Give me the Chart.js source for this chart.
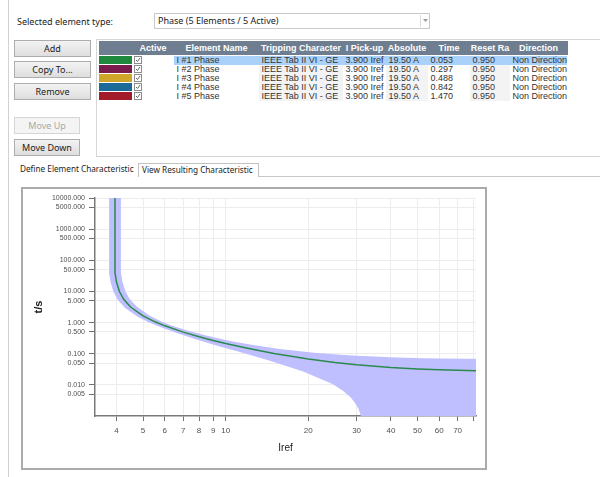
<!DOCTYPE html>
<html>
<head>
<meta charset="utf-8">
<script src="https://cdn.jsdelivr.net/npm/chart.js@4.4.1/dist/chart.umd.min.js"></script>
<style>
  html, body { margin: 0; padding: 0; background: #fff; }
  body { width: 600px; height: 477px; position: relative; overflow: hidden; font-family: "Noto Sans", "Open Sans", sans-serif; color: #222; }
  .pageLine { position: absolute; left: 8px; top: 0; width: 1px; height: 477px; background: #d2d2d2; }
  .lbl { position: absolute; font-size: 9px; line-height: 13px; white-space: nowrap; }
  .combo { position: absolute; left: 154px; top: 13px; width: 274px; height: 14px; border: 1px solid #c9c9c9; font-size: 9px; line-height: 14px; }
  .combo span { position: absolute; left: 3px; top: 0; }
  .combo .sep { position: absolute; left: 265px; top: 1px; width: 1px; height: 12px; background: #dcdcdc; }
  .btn { position: absolute; left: 14px; width: 75px; height: 15px; border: 1px solid #adadad; background: linear-gradient(#f3f3f3, #dedede); font-size: 9px; text-align: center; line-height: 15px; color: #222; }
  .btn.off { color: #a9a9a9; border-color: #d5d5d5; background: #f4f4f4; }
  .tbl { position: absolute; left: 96px; top: 39px; width: 510px; height: 116px; border: 1px solid #d6d6d6; background: #fff; }
  .cell { position: absolute; font-family: "Liberation Sans", Arial, sans-serif; font-size: 9px; line-height: 9px; white-space: nowrap; color: #333; }
  .hcell { position: absolute; font-family: "Liberation Sans", Arial, sans-serif; font-weight: bold; font-size: 9px; line-height: 14px; color: #fff; text-align: center; white-space: nowrap; }
  .chk { position: absolute; width: 8px; height: 8px; line-height: 0; }
  .chk svg { display: block; }
  .tab { position: absolute; font-size: 8.2px; line-height: 12px; white-space: nowrap; }
  .tabOn { position: absolute; left: 138px; top: 163px; width: 119px; height: 13px; border: 1px solid #c2c2c2; border-bottom: none; background: #fff; }
  .frame { position: absolute; left: 21px; top: 187px; width: 462px; height: 279px; border: 2px solid #ababab; }
</style>
</head>
<body>
<div class="pageLine"></div>
<div class="lbl" style="left:17px; top:15px;">Selected element type:</div>
<div class="combo"><span>Phase (5 Elements / 5 Active)</span><div class="sep"></div>
  <svg style="position:absolute; left:268px; top:5px;" width="5" height="4"><polygon points="0,0 5,0 2.5,3" fill="#9a9a9a"/></svg>
</div>

<div class="btn" style="top:40px;">Add</div>
<div class="btn" style="top:61px;">Copy To...</div>
<div class="btn" style="top:83px;">Remove</div>
<div class="btn off" style="top:117px; width:64px;">Move Up</div>
<div class="btn" style="top:139px; width:64px;">Move Down</div>

<div class="tbl" id="tbl"></div>

<div class="tab" style="left:20px; top:163px;">Define Element Characteristic</div>
<div class="tabOn"></div>
<div class="tab" style="left:142px; top:164px;">View Resulting Characteristic</div>
<div style="position:absolute; left:258px; top:176px; width:342px; height:1px; background:#c8c8c8;"></div>

<div class="frame"><canvas id="chart" width="462" height="279"></canvas></div>

<script>
// table contents
const columnNames = ["", "Active", "Element Name", "Tripping Character", "I Pick-up", "Absolute", "Time", "Reset Ra", "Direction"];
const columnWidths = [33.5, 42, 85, 84, 43, 42, 42, 40, 57];
const swatchColors = ["#1f8a3d", "#7b1c4e", "#cfa52a", "#1b6a97", "#a21b2b"];
const elementNames = ["I #1 Phase", "I #2 Phase", "I #3 Phase", "I #4 Phase", "I #5 Phase"];
const trippingChars = ["IEEE Tab II VI - GE", "IEEE Tab II VI - GE", "IEEE Tab II VI - GE", "IEEE Tab II VI - GE", "IEEE Tab II VI - GE"];
const pickups = ["3.900 Iref", "3.900 Iref", "3.900 Iref", "3.900 Iref", "3.900 Iref"];
const absolutes = ["19.50 A", "19.50 A", "19.50 A", "19.50 A", "19.50 A"];
const timeDials = ["0.053", "0.297", "0.488", "0.842", "1.470"];
const resetRatios = ["0.950", "0.950", "0.950", "0.950", "0.950"];
const directions = ["Non Direction", "Non Direction", "Non Direction", "Non Direction", "Non Direction"];

// chart data
const currentTicks = [4, 5, 6, 7, 8, 9, 10, 20, 30, 40, 50, 60, 70, 80];
const currentTickLabels = ["4", "5", "6", "7", "8", "9", "10", "20", "30", "40", "50", "60", "70", ""];
const timeTicks = [0.005, 0.01, 0.05, 0.1, 0.5, 1, 5, 10, 50, 100, 500, 1000, 5000, 10000];

const tripCurrent = [3.95, 3.95, 4.0, 4.1, 4.25, 4.5, 5, 5.5, 6, 7, 8, 9, 10, 12, 15, 20, 25, 30, 40, 50, 60, 70, 81.7];
const tripTime = [10000, 40.3, 20.0, 9.91, 5.57, 3.16, 1.64, 1.077, 0.786, 0.494, 0.350, 0.266, 0.212, 0.149, 0.101, 0.0671, 0.0519, 0.0439, 0.0360, 0.0324, 0.0304, 0.0293, 0.0284];

const upperCurrent = [4.15, 4.15, 4.2, 4.305, 4.46, 4.725, 5.25, 5.775, 6.3, 7.35, 8.4, 9.45, 10.5, 12.6, 15.75, 21, 26.25, 31.5, 42, 52.5, 63, 73.5, 81.7];
const upperTime = [20000, 42.3, 21.0, 10.4, 5.85, 3.32, 1.72, 1.131, 0.826, 0.534, 0.390, 0.306, 0.252, 0.189, 0.141, 0.107, 0.092, 0.084, 0.076, 0.072, 0.070, 0.069, 0.0686];

const lowerCurrent = [3.76, 3.76, 3.81, 3.905, 4.05, 4.29, 4.76, 5.24, 5.71, 6.67, 7.62, 8.57, 9.52, 11.43, 14.29, 19.05, 23.81, 24.76, 26.67, 28.57, 29.52, 30.48, 31.43, 31.9, 32.3, 81.7];
const lowerTime = [20000, 38.3, 19.0, 9.41, 5.29, 3.00, 1.56, 1.023, 0.746, 0.454, 0.310, 0.226, 0.172, 0.109, 0.0614, 0.0271, 0.0119, 0.0100, 0.0066, 0.0039, 0.0027, 0.0017, 0.00075, 0.0003, 0.0001, 0.0001];

function buildTable() {
  const tbl = document.getElementById("tbl");
  const x0 = 1.5;
  const head = document.createElement("div");
  head.style.cssText = "position:absolute;left:" + x0 + "px;top:1px;width:469px;height:14px;background:#6e7e90;";
  tbl.appendChild(head);

  let x = x0;
  const colStart = [];
  columnNames.forEach((name, i) => {
    colStart.push(x);
    const h = document.createElement("div");
    h.className = "hcell";
    h.style.left = x + "px";
    h.style.top = "1px";
    h.style.width = columnWidths[i] + "px";
    h.textContent = name;
    tbl.appendChild(h);
    x += columnWidths[i];
  });

  const rowCols = [elementNames, trippingChars, pickups, absolutes, timeDials, resetRatios, directions];
  elementNames.forEach((_, r) => {
    const top = 16 + r * 9;
    const sw = document.createElement("div");
    sw.style.cssText = "position:absolute;left:" + x0 + "px;top:" + top + "px;width:33.5px;height:8px;background:" + swatchColors[r] + ";";
    tbl.appendChild(sw);

    if (r === 0) {
      const hl = document.createElement("div");
      hl.style.cssText = "position:absolute;left:" + colStart[2] + "px;top:" + top + "px;width:" + (x - colStart[2]) + "px;height:9px;background:#a9d1fa;";
      tbl.appendChild(hl);
    } else {
      for (let c = 3; c < columnNames.length; c += 2) {
        const bg = document.createElement("div");
        bg.style.cssText = "position:absolute;left:" + colStart[c] + "px;top:" + top + "px;width:" + columnWidths[c] + "px;height:9px;background:#f3f3f3;";
        tbl.appendChild(bg);
      }
    }

    const cb = document.createElement("div");
    cb.className = "chk";
    cb.style.left = (colStart[1] + 1.5) + "px";
    cb.style.top = top + "px";
    cb.innerHTML = '<svg width="8" height="8"><rect x="0.5" y="0.5" width="7" height="7" fill="#fff" stroke="#8c8c8c"/><polyline points="2,4 3.5,5.5 6,2" fill="none" stroke="#666" stroke-width="1"/></svg>';
    tbl.appendChild(cb);

    rowCols.forEach((vals, k) => {
      const c = k + 2;
      const d = document.createElement("div");
      d.className = "cell";
      d.style.left = (colStart[c] + 2.5) + "px";
      d.style.top = top + "px";
      d.textContent = vals[r];
      tbl.appendChild(d);
    });
  });
}
buildTable();

Chart.defaults.font.family = "'Liberation Sans', Arial, sans-serif";

const tripPoints = tripCurrent.map((c, i) => ({ x: c, y: tripTime[i] }));
const upperPoints = upperCurrent.map((c, i) => ({ x: c, y: upperTime[i] }));
const lowerPoints = lowerCurrent.map((c, i) => ({ x: c, y: lowerTime[i] })).reverse();
const bandPoints = upperPoints.concat(lowerPoints);

const ctx = document.getElementById("chart").getContext("2d");
new Chart(ctx, {
  type: "scatter",
  data: {
    datasets: [
      {
        label: "I #1 Phase",
        data: tripPoints,
        showLine: true,
        borderColor: "#2b8a4b",
        borderWidth: 1.5,
        pointRadius: 0,
        fill: false,
      },
      {
        label: "Tolerance",
        data: bandPoints,
        showLine: true,
        borderColor: "rgba(0,0,0,0)",
        backgroundColor: "#bfbfff",
        borderWidth: 1,
        pointRadius: 0,
        fill: "shape",
      },
    ],
  },
  options: {
    responsive: false,
    animation: false,
    events: [],
    layout: { padding: { left: 0, top: 9, right: 9, bottom: 0 } },
    plugins: { legend: { display: false }, tooltip: { enabled: false } },
    scales: {
      x: {
        type: "logarithmic",
        min: 3.34,
        max: 81.7,
        bounds: "data",
        afterBuildTicks: scale => { scale.ticks = currentTicks.map(v => ({ value: v })); },
        afterFit: scale => { scale.height = 52; },
        ticks: {
          autoSkip: false,
          maxRotation: 0,
          padding: 5,
          color: "#505050",
          font: { size: 8 },
          callback: (v, i) => currentTickLabels[i],
        },
        grid: { color: "#ececec", tickColor: "#707070", tickLength: 5 },
        border: { color: "#7a7a7a", width: 1.5 },
        title: { display: true, text: "Iref", color: "#222", font: { size: 10 }, padding: { top: 0, bottom: 14 } },
      },
      y: {
        type: "logarithmic",
        min: 0.001,
        max: 10000,
        bounds: "data",
        afterBuildTicks: scale => { scale.ticks = timeTicks.map(v => ({ value: v })); },
        afterFit: scale => { scale.width = 72; },
        ticks: {
          autoSkip: false,
          padding: 4,
          color: "#505050",
          font: { size: 7 },
          callback: v => Number(v).toFixed(3),
        },
        grid: { color: "#ececec", tickColor: "#707070", tickLength: 6 },
        border: { color: "#7a7a7a", width: 1.5 },
        title: { display: true, text: "t/s", color: "#222", font: { size: 11, weight: "bold" }, padding: { top: 9, bottom: 0 } },
      },
    },
  },
});
</script>
</body>
</html>
